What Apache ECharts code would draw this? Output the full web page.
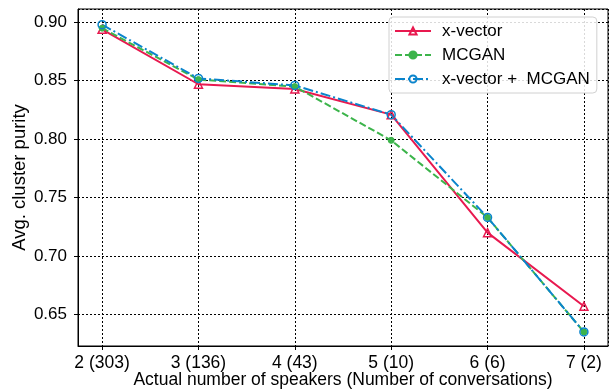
<!DOCTYPE html>
<html>
<head>
<meta charset="utf-8">
<script src="https://cdn.jsdelivr.net/npm/echarts@6/dist/echarts.min.js"></script>
<style>
  html, body { margin: 0; padding: 0; background: #fff; }
  #purityChart { width: 611px; height: 389px; }
</style>
</head>
<body>
<div id="purityChart"></div>
<script>
const speakers = [2, 3, 4, 5, 6, 7];
const xLabels = ['2 (303)', '3 (136)', '4 (43)', '5 (10)', '6 (6)', '7 (2)'];
const xvector = [0.894, 0.847, 0.843, 0.821, 0.720, 0.657];
const mcgan = [0.895, 0.851, 0.845, 0.799, 0.733, 0.635];
const combined = [0.898, 0.852, 0.846, 0.821, 0.733, 0.635];

const font = 'Liberation Sans';
const pair = arr => speakers.map((s, i) => [s, arr[i]]);

let myChart = echarts.init(document.getElementById('purityChart'));
const option = {
  animation: false,
  grid: {
    left: 78, right: 3, top: 9, bottom: 43,
    outerBoundsMode: 'none',
    containLabel: false,
    show: true, borderColor: '#000', borderWidth: 1
  },
  legend: {
    orient: 'vertical',
    left: 389, top: 17,
    padding: [5, 7, 5, 5],
    itemWidth: 36, itemHeight: 9, itemGap: 6,
    backgroundColor: 'rgba(255,255,255,0.85)',
    borderColor: '#d0d0d0', borderWidth: 1, borderRadius: 4,
    textStyle: { fontFamily: font, fontSize: 17, color: '#000', lineHeight: 18, padding: [0, 0, 0, 6] }
  },
  xAxis: {
    type: 'value',
    min: 1.75, max: 7.25,
    name: 'Actual number of speakers (Number of conversations)',
    nameLocation: 'middle', nameGap: 25, nameMoveOverlap: false,
    nameTextStyle: { fontFamily: font, fontSize: 17.5, color: '#000' },
    axisLine: { lineStyle: { color: '#000', width: 1 } },
    axisTick: { show: true, length: 4, lineStyle: { color: '#000' } },
    axisLabel: {
      fontFamily: font, fontSize: 17.5, color: '#000', margin: 8,
      showMinLabel: false, showMaxLabel: false,
      formatter: v => { const i = speakers.indexOf(v); return i >= 0 ? xLabels[i] : ''; }
    },
    splitLine: { show: true, lineStyle: { color: '#000', type: [2, 2], width: 1 } }
  },
  yAxis: {
    type: 'value',
    min: 0.623, max: 0.9114,
    name: 'Avg. cluster purity',
    nameLocation: 'middle', nameGap: 49, nameMoveOverlap: false,
    nameTextStyle: { fontFamily: font, fontSize: 18.5, color: '#000' },
    axisLine: { show: true, lineStyle: { color: '#000', width: 1 } },
    axisTick: { show: true, length: 4, lineStyle: { color: '#000' } },
    axisLabel: {
      fontFamily: font, fontSize: 17, color: '#000', margin: 11,
      showMinLabel: false, showMaxLabel: false,
      formatter: v => v.toFixed(2)
    },
    splitLine: { show: true, lineStyle: { color: '#000', type: [2, 2], width: 1 } }
  },
  series: [
    {
      name: 'x-vector', type: 'line', data: pair(xvector),
      symbol: 'triangle', symbolSize: 8,
      lineStyle: { color: '#e8194f', width: 2 },
      itemStyle: { color: 'rgba(255,255,255,0)', borderColor: '#e8194f', borderWidth: 1.5 }
    },
    {
      name: 'MCGAN', type: 'line', data: pair(mcgan),
      symbol: 'circle', symbolSize: 6,
      lineStyle: { color: '#3cb44b', width: 2, type: [7, 3] },
      itemStyle: { color: '#3cb44b', borderColor: '#3cb44b', borderWidth: 1 }
    },
    {
      name: 'x-vector +  MCGAN', type: 'line', data: pair(combined),
      symbol: 'circle', symbolSize: 8,
      lineStyle: { color: '#0a84cc', width: 2, type: [10, 3, 2, 3] },
      itemStyle: { color: 'rgba(255,255,255,0)', borderColor: '#0a84cc', borderWidth: 1.5 }
    }
  ]
};
myChart.setOption(option);
</script>
</body>
</html>
